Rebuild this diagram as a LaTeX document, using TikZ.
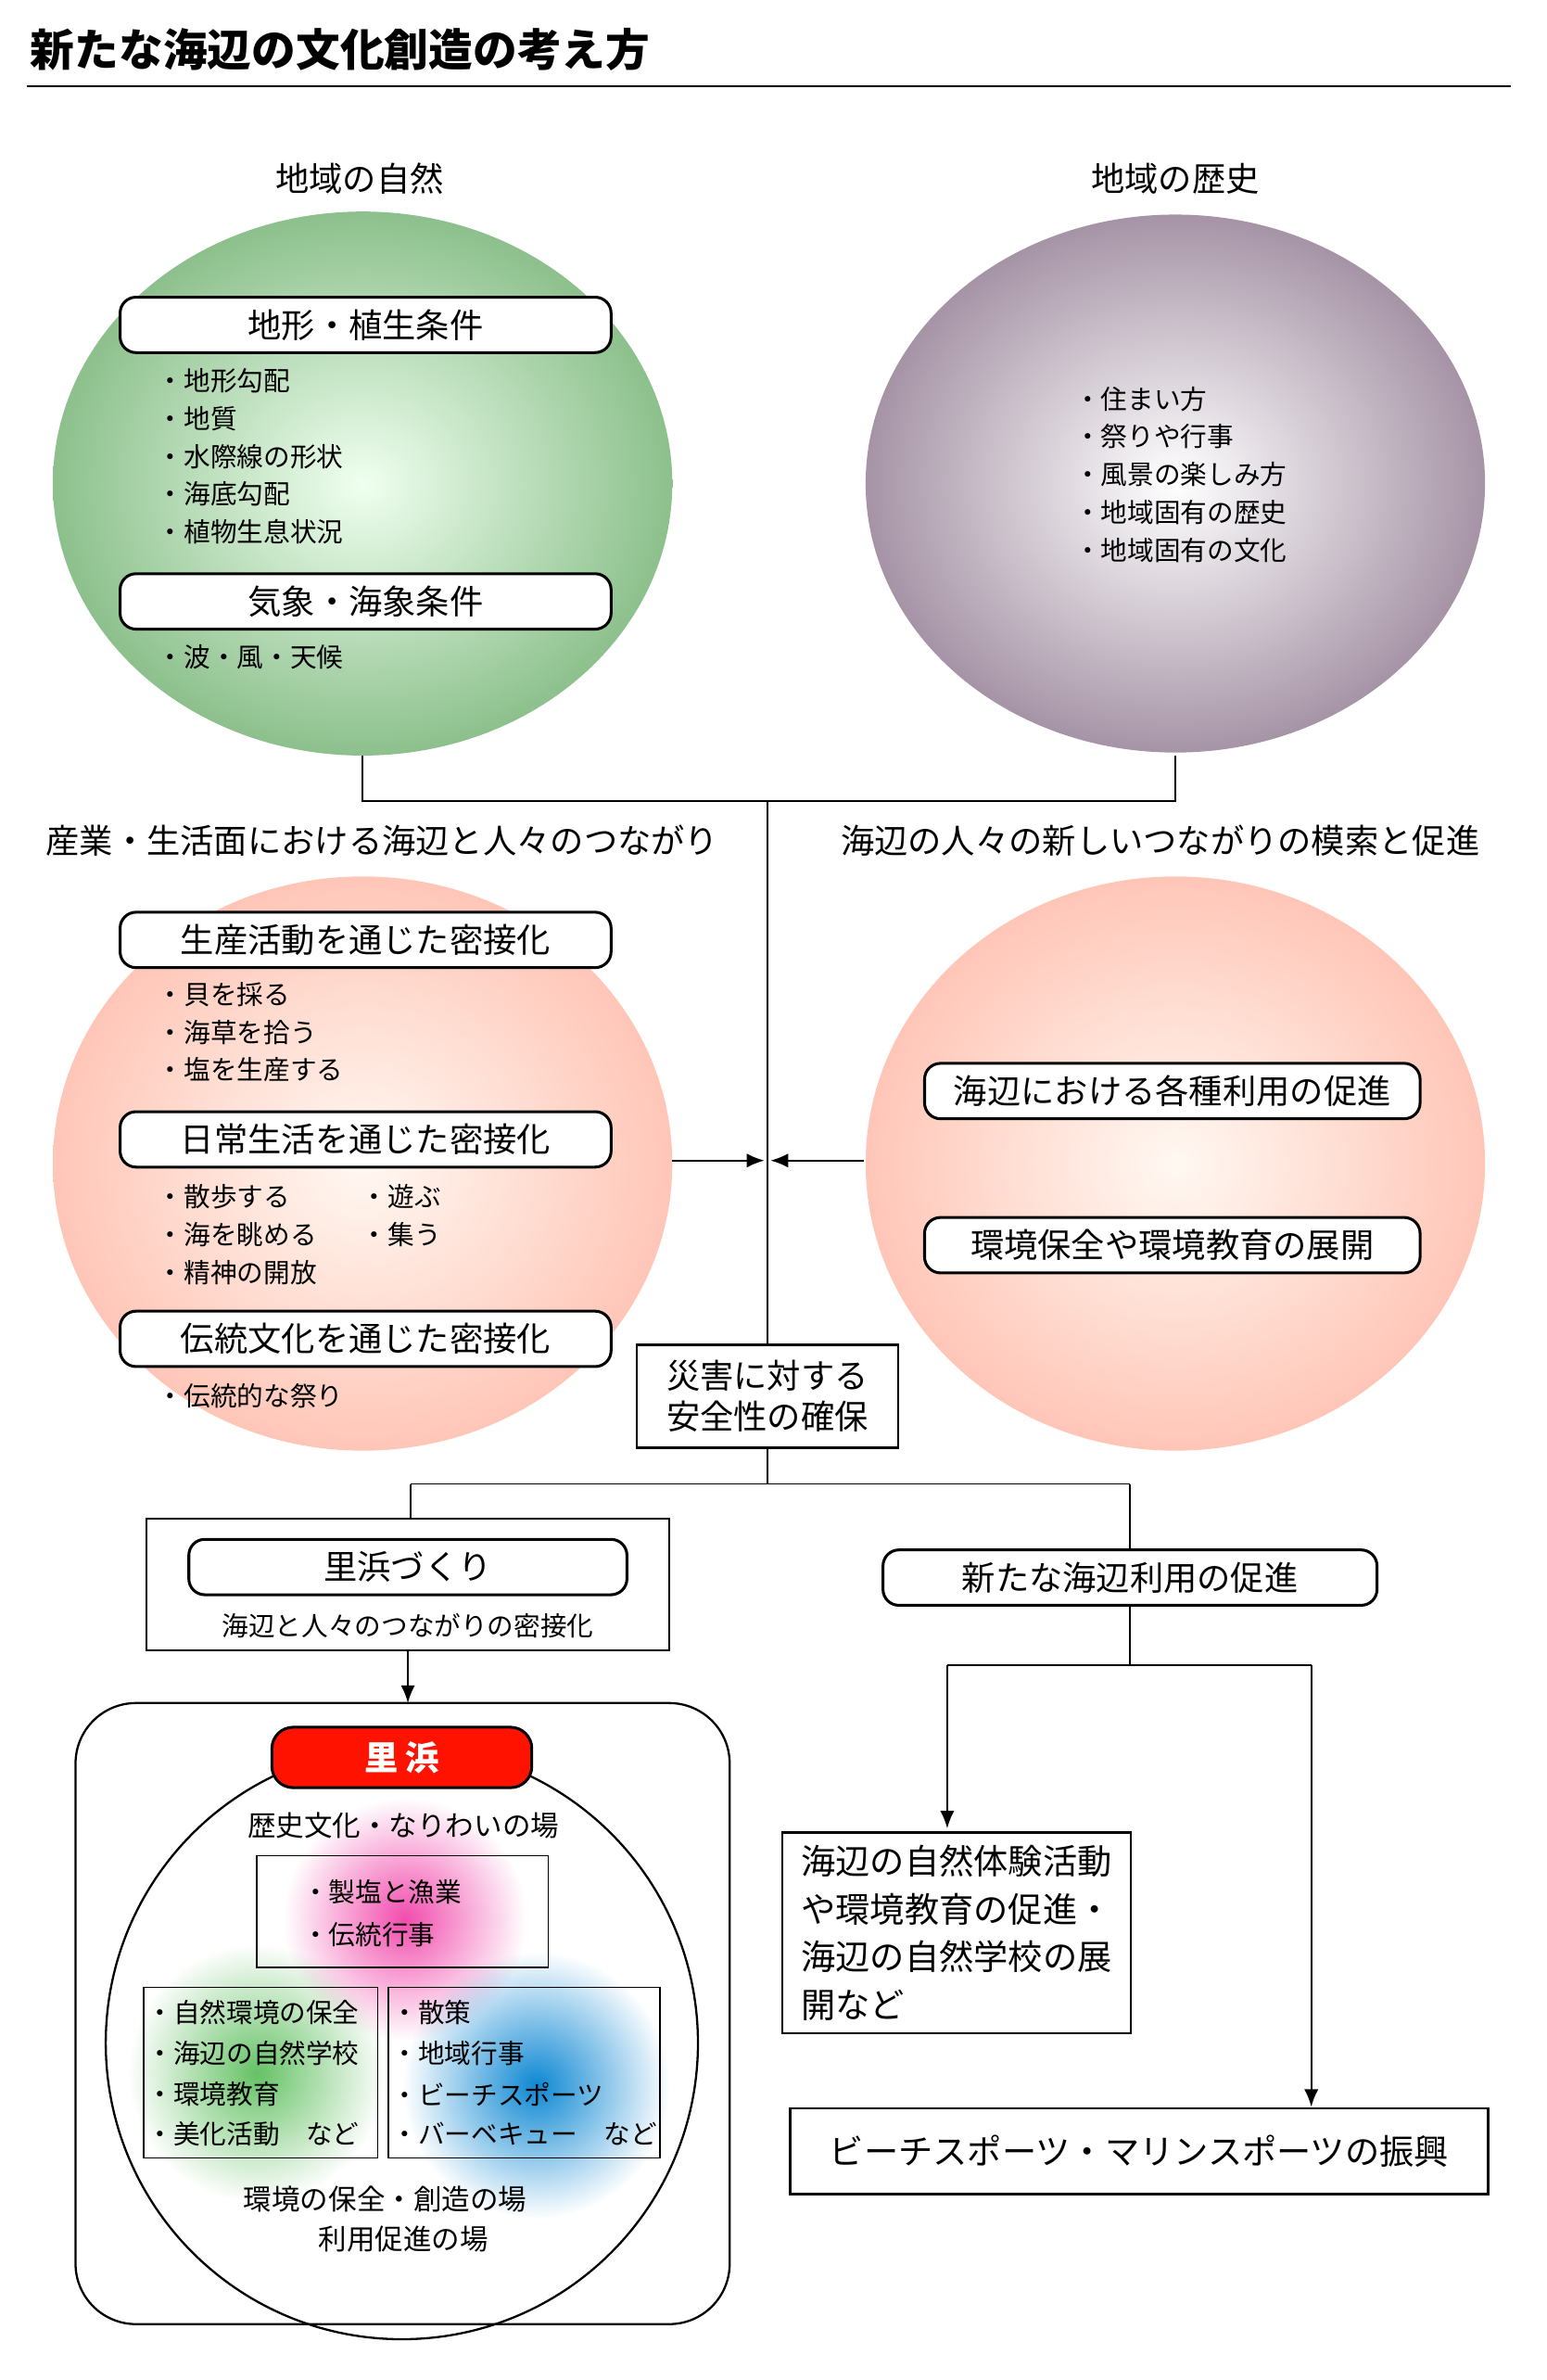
\documentclass[tikz,border=0pt]{standalone}
\usepackage{fontspec}
\setmainfont{Noto Sans CJK JP}
\usetikzlibrary{fadings,arrows.meta}
\tikzfading[name=glow, inner color=transparent!0, outer color=transparent!100]
\tikzset{
 ttl/.style={draw,line width=1.6pt,rounded corners=9pt,fill=white,minimum height=1.1cm,font=\fontsize{19}{20}\selectfont,inner sep=0pt},
 bl/.style={anchor=west,font=\fontsize{15}{16}\selectfont,inner sep=0pt},
 hd/.style={font=\fontsize{19}{20}\selectfont,inner sep=0pt},
 ln/.style={line width=1pt},
 ar/.style={line width=1pt,-{Latex[length=10pt,width=8pt]}},
 pbox/.style={draw,line width=1.2pt,inner sep=0pt}
}
\begin{document}
\begin{tikzpicture}[x=0.03cm,y=-0.03cm]
\useasboundingbox (0,0) rectangle (1024,1575);
\fill[white] (0,0) rectangle (1024,1575);
\node[anchor=west,font=\fontsize{25}{28}\selectfont\bfseries,inner sep=0pt] (title) at (20,33) {新たな海辺の文化創造の考え方};
\draw[line width=1pt] (18,57) -- (1000,57);
\node[hd] (h1) at (238,118) {地域の自然};
\node[hd] (h2) at (778,118) {地域の歴史};
% circles
\shade[inner color=green!6!white,outer color=green!45!black!45!white] (240,320) ellipse [x radius=205,y radius=180];
\shade[inner color=white,outer color=violet!20!gray!70!white] (778,320) ellipse [x radius=205,y radius=178];
\shade[inner color=orange!5!white,outer color=orange!40!red!28!white] (240,770) ellipse [x radius=205,y radius=190];
\shade[inner color=orange!5!white,outer color=orange!40!red!28!white] (778,770) ellipse [x radius=205,y radius=190];
% connectors top
\coordinate (g1) at (240,530); \coordinate (g2) at (778,530); \coordinate (j) at (508,530);
\draw[ln] (240,500) -- (g1) -- (g2) -- (778,500);
% green
\node[ttl,minimum width=325*0.03cm] (t1) at (242,215) {地形・植生条件};
\node[bl] (b1) at (104,252) {・地形勾配};
\node[bl] (b2) at (104,277) {・地質};
\node[bl] (b3) at (104,302) {・水際線の形状};
\node[bl] (b4) at (104,327) {・海底勾配};
\node[bl] (b5) at (104,352) {・植物生息状況};
\node[ttl,minimum width=325*0.03cm] (t2) at (242,398) {気象・海象条件};
\node[bl] (b6) at (104,435) {・波・風・天候};
% gray
\node[bl] (c1) at (711,264) {・住まい方};
\node[bl] (c2) at (711,289) {・祭りや行事};
\node[bl] (c3) at (711,314) {・風景の楽しみ方};
\node[bl] (c4) at (711,339) {・地域固有の歴史};
\node[bl] (c5) at (711,364) {・地域固有の文化};
\node[hd] (h3) at (253,556) {産業・生活面における海辺と人々のつながり};
\node[hd] (h4) at (768,556) {海辺の人々の新しいつながりの模索と促進};
% left orange
\node[ttl,minimum width=325*0.03cm] (t3) at (242,622) {生産活動を通じた密接化};
\node[bl] (d1) at (104,658) {・貝を採る};
\node[bl] (d2) at (104,683) {・海草を拾う};
\node[bl] (d3) at (104,708) {・塩を生産する};
\node[ttl,minimum width=325*0.03cm] (t4) at (242,754) {日常生活を通じた密接化};
\node[bl] (d4) at (104,792) {・散歩する};
\node[bl] (d5) at (239,792) {・遊ぶ};
\node[bl] (d6) at (104,817) {・海を眺める};
\node[bl] (d7) at (239,817) {・集う};
\node[bl] (d8) at (104,842) {・精神の開放};
\node[ttl,minimum width=325*0.03cm] (t5) at (242,886) {伝統文化を通じた密接化};
\node[bl] (d9) at (104,924) {・伝統的な祭り};
% right orange
\node[ttl,minimum width=328*0.03cm] (t6) at (776,722) {海辺における各種利用の促進};
\node[ttl,minimum width=328*0.03cm] (t7) at (776,824) {環境保全や環境教育の展開};
% disaster
\node[pbox,minimum width=173*0.03cm,minimum height=68*0.03cm,align=center,font=\fontsize{19}{23}\selectfont,fill=white] (dis) at (508,924) {災害に対する\\安全性の確保};
\draw[ln] (j) -- (dis.north);
\draw[ar] (445,768) -- (506,768);
\draw[ar] (572,768) -- (510,768);
% split
\coordinate (s0) at (508,982); \coordinate (sl) at (272,982); \coordinate (sr) at (748,982);
\draw[ln] (dis.south) -- (s0);
\draw[ln] (sl) -- (sr);
% satohama zukuri
\node[pbox,minimum width=346*0.03cm,minimum height=87*0.03cm] (sz) at (270,1048.5) {};
\draw[ln] (sl) -- (272,1005);
\node[ttl,minimum width=290*0.03cm] (szt) at (270,1037) {里浜づくり};
\node[font=\fontsize{15}{16}\selectfont,inner sep=0pt] (szs) at (270,1076) {海辺と人々のつながりの密接化};
\draw[ar] (sz.south) -- (270,1127);
% big frame
\draw[line width=1.2pt,rounded corners=40*0.03cm] (50,1127) rectangle (483,1538);
\draw[line width=1.2pt] (266,1352) circle [radius=196];
\fill[magenta!70,path fading=glow] (268,1270) circle [radius=80];
\fill[green!60!black!60,path fading=glow] (170,1372) circle [radius=85];
\fill[cyan!70!blue,path fading=glow] (355,1380) circle [radius=88];
\node[draw,line width=1.6pt,rounded corners=12pt,fill=red!85!orange,text=white,minimum width=172*0.03cm,minimum height=40*0.03cm,font=\fontsize{19}{20}\selectfont\bfseries,inner sep=0pt] (sh) at (266,1163) {里 浜};
\node[font=\fontsize{16}{17}\selectfont,inner sep=0pt] (rk) at (267,1208) {歴史文化・なりわいの場};
\draw[line width=0.8pt] (170,1228) rectangle (363,1302);
\node[bl] (e1) at (200,1252) {・製塩と漁業};
\node[bl] (e2) at (200,1280) {・伝統行事};
\draw[line width=0.8pt] (95,1315) rectangle (250,1428);
\draw[line width=0.8pt] (257,1315) rectangle (437,1428);
\node[bl] (f1) at (97,1332) {・自然環境の保全};
\node[bl] (f2) at (97,1359) {・海辺の自然学校};
\node[bl] (f3) at (97,1386) {・環境教育};
\node[bl] (f4) at (97,1412) {・美化活動　など};
\node[bl] (g5) at (259,1332) {・散策};
\node[bl] (g6) at (259,1359) {・地域行事};
\node[bl] (g7) at (259,1386) {・ビーチスポーツ};
\node[bl] (g8) at (259,1412) {・バーベキュー　など};
\node[font=\fontsize{16}{17}\selectfont,inner sep=0pt] (k1) at (255,1455) {環境の保全・創造の場};
\node[font=\fontsize{16}{17}\selectfont,inner sep=0pt] (k2) at (267,1482) {利用促進の場};
% right branch
\node[ttl,minimum width=327*0.03cm] (nr) at (748,1044) {新たな海辺利用の促進};
\draw[ln] (sr) -- (nr.north);
\coordinate (q0) at (748,1102); \coordinate (ql) at (627,1102); \coordinate (qr) at (868,1102);
\draw[ln] (nr.south) -- (q0);
\draw[ln] (ql) -- (qr);
\node[pbox,minimum width=231*0.03cm,minimum height=133*0.03cm,align=left,font=\fontsize{19.5}{27}\selectfont,anchor=north west,inner sep=3pt] (na) at (517,1212) {海辺の自然体験活動\\や環境教育の促進・\\海辺の自然学校の展\\開など};
\draw[ar] (ql) -- (627,1210);
\node[pbox,minimum width=462*0.03cm,minimum height=57*0.03cm,font=\fontsize{19.5}{20}\selectfont] (bs) at (754,1423.5) {ビーチスポーツ・マリンスポーツの振興};
\draw[ar] (qr) -- (bs.north -| qr);
\end{tikzpicture}
\end{document}
